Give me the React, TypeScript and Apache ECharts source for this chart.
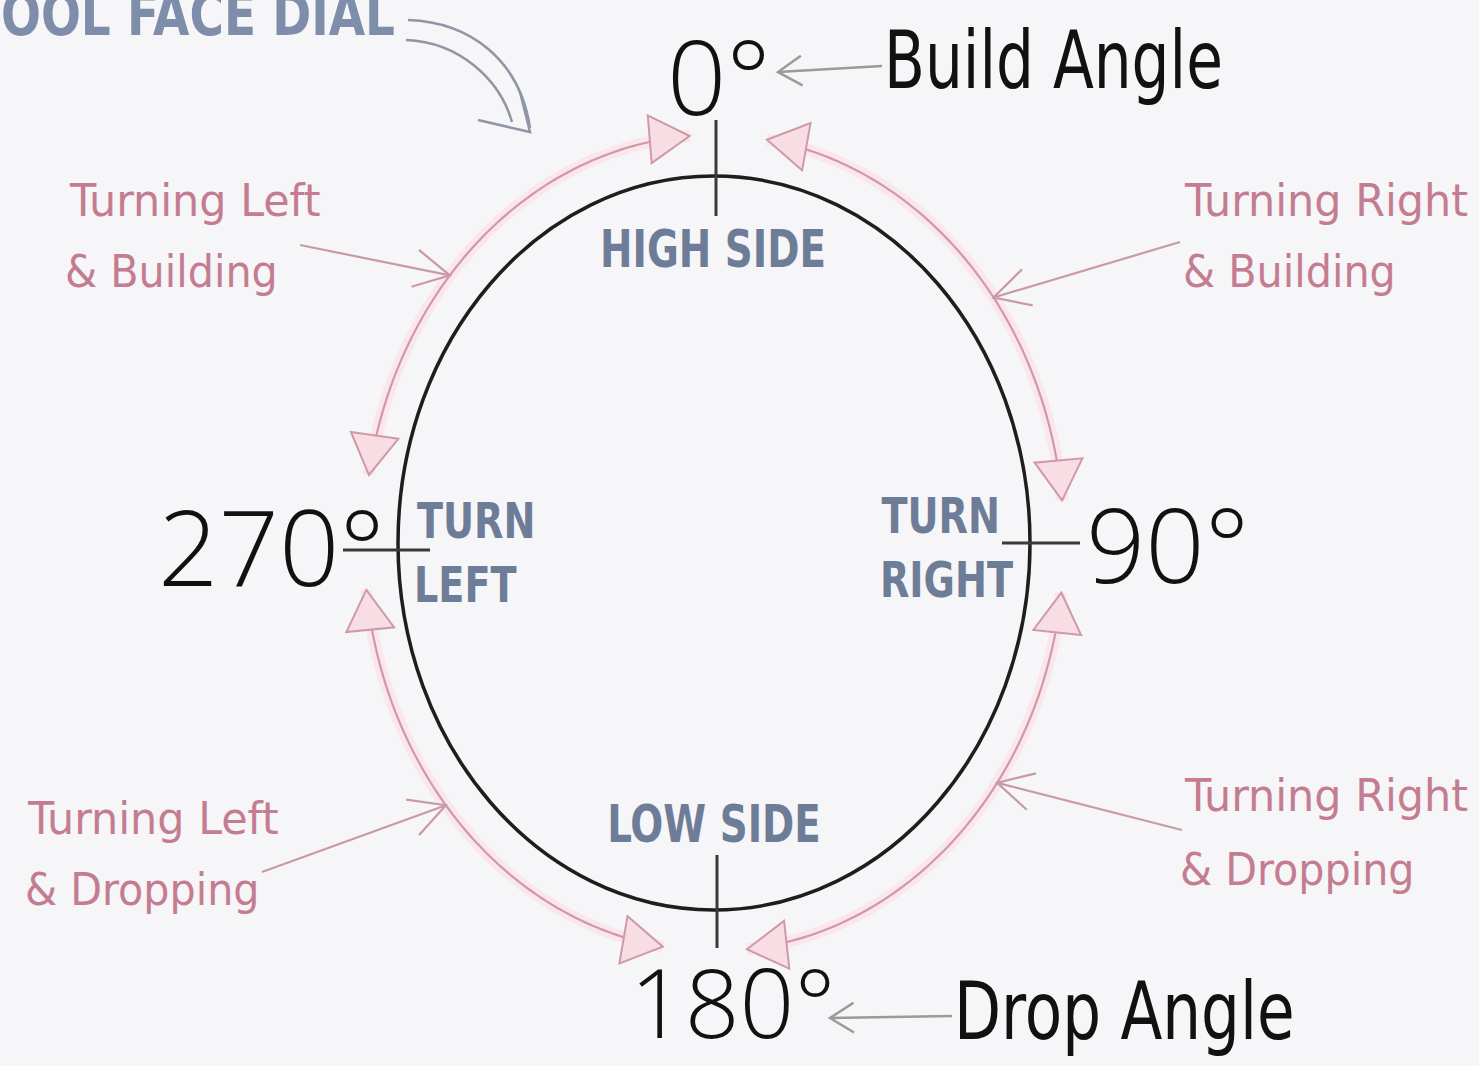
import React, { useEffect, useRef } from 'react';
import * as echarts from 'echarts';

// ---- content ----
const title = 'TOOL FACE DIAL';
const dialAngles = [0, 90, 180, 270];
const dialLabels = ['0°', '90°', '180°', '270°'];
const sideLabels = ['HIGH SIDE', 'TURN\nRIGHT', 'LOW SIDE', 'TURN\nLEFT'];
const angleNotes = ['Build Angle', 'Drop Angle'];
const quadrantLabels = [
  'Turning Right\n& Building',
  'Turning Right\n& Dropping',
  'Turning Left\n& Dropping',
  'Turning Left\n& Building',
];
const arcStart = [8.7, 97, 188.4, 279.6];
const arcEnd = [84, 174.6, 263.4, 356];
const pointerAngles = [53, 126, 230, 311];

// ---- layout ----
const W = 1479, H = 1066;
const CX = 714, CY = 543;
const RX = 316, RY = 367;
const PRX = 350, PRY = 408;

const HAND = "'Open Sans', 'Liberation Sans', sans-serif";
const NARROW = "'Liberation Sans Narrow', 'DejaVu Sans Condensed', 'Open Sans', sans-serif";
const BLUE = '#6e7d97';
const PINK_TXT = '#c47d90';
const PINK_LINE = '#cf9aa8';
const PINK_FILL = '#f9dde4';

const rad = (d: number) => (d * Math.PI) / 180;
const ept = (th: number, rx: number, ry: number) => [CX + rx * Math.sin(rad(th)), CY - ry * Math.cos(rad(th))];
const tan = (th: number, rx: number, ry: number) => {
  const dx = rx * Math.cos(rad(th)), dy = ry * Math.sin(rad(th));
  const l = Math.hypot(dx, dy);
  return [dx / l, dy / l];
};

function tri(p: number[], u: number[], L: number, w: number) {
  const b = [p[0] - L * u[0], p[1] - L * u[1]];
  const n = [-u[1], u[0]];
  return {
    type: 'polygon',
    shape: { points: [p, [b[0] + w * n[0], b[1] + w * n[1]], [b[0] - w * n[0], b[1] - w * n[1]]] },
    style: { fill: PINK_FILL, stroke: PINK_LINE, lineWidth: 2 },
    z: 5,
  };
}

function vHead(s: number[], t: number[], L: number, ang: number, color: string, lw: number) {
  const dx = t[0] - s[0], dy = t[1] - s[1];
  const l = Math.hypot(dx, dy);
  const ux = dx / l, uy = dy / l;
  const arms = [ang, -ang].map((a) => {
    const c = Math.cos(rad(a)), sn = Math.sin(rad(a));
    const rx = ux * c - uy * sn, ry = ux * sn + uy * c;
    return [t[0] - L * rx, t[1] - L * ry];
  });
  return [
    { type: 'line', shape: { x1: s[0], y1: s[1], x2: t[0], y2: t[1] }, style: { stroke: color, lineWidth: lw }, z: 4 },
    { type: 'polyline', shape: { points: [arms[0], t, arms[1]] }, style: { stroke: color, lineWidth: lw, fill: null }, z: 4 },
  ];
}

function txt(text: string, x: number, y: number, size: number, color: string, family: string, align = 'left', weight: any = 'normal', sx = 1) {
  return {
    type: 'text',
    z: 10,
    x, y, scaleX: sx, scaleY: 1,
    style: {
      text, x: 0, y: 0, fill: color,
      fontSize: size, fontFamily: family, fontWeight: weight, lineHeight: Math.round(size * 1.05),
      align, textAlign: align, verticalAlign: 'middle', textVerticalAlign: 'middle',
    },
  };
}

function buildGraphic() {
  const els: any[] = [];

  // pink quadrant arcs
  arcStart.forEach((a0, i) => {
    const a1 = arcEnd[i];
    const pts: number[][] = [];
    for (let a = a0; a < a1; a += 1) pts.push(ept(a, PRX, PRY));
    pts.push(ept(a1, PRX, PRY));
    els.push({ type: 'polyline', shape: { points: pts }, style: { stroke: '#fbe6eb', lineWidth: 12, fill: null }, z: 2 });
    els.push({ type: 'polyline', shape: { points: pts }, style: { stroke: PINK_LINE, lineWidth: 2.2, fill: null }, z: 3 });
    const t1 = tan(a1, PRX, PRY);
    els.push(tri(ept(a1, PRX, PRY), t1, 40, 24));
    const t0 = tan(a0, PRX, PRY);
    els.push(tri(ept(a0, PRX, PRY), [-t0[0], -t0[1]], 40, 24));
  });

  // dial ellipse
  els.push({ type: 'ellipse', shape: { cx: CX, cy: CY, rx: RX, ry: RY }, style: { stroke: '#1e1e1e', lineWidth: 3.5, fill: null }, z: 6 });

  // cross ticks at dial angles
  const tickSpecs: Record<number, any> = {
    0: { x1: 716, y1: 120, x2: 716, y2: 216 },
    90: { x1: 1002, y1: 543, x2: 1080, y2: 543 },
    180: { x1: 717, y1: 855, x2: 717, y2: 948 },
    270: { x1: 343, y1: 550, x2: 430, y2: 550 },
  };
  dialAngles.forEach((a) => {
    els.push({ type: 'line', shape: tickSpecs[a], style: { stroke: '#3a3a3a', lineWidth: 3 }, z: 7 });
  });

  // dial labels
  const dialPos: Record<number, any> = {
    0: [667, 74, 104],
    90: [1086, 542, 104],
    180: [630, 1000, 96],
    270: [158, 545, 106],
  };
  dialAngles.forEach((a, i) => {
    const p = dialPos[a];
    els.push(txt(dialLabels[i], p[0], p[1], p[2], '#111', HAND, 'left', 300));
  });

  // side labels
  const SX = 0.83;
  els.push(txt(sideLabels[0], 713, 249, 52, BLUE, NARROW, 'center', 'bold', SX));
  els.push(txt(sideLabels[2], 714, 824, 52, BLUE, NARROW, 'center', 'bold', SX));
  const tr = sideLabels[1].split('\n');
  els.push(txt(tr[0], 1000, 516, 50, BLUE, NARROW, 'right', 'bold', 0.85));
  els.push(txt(tr[1], 1013, 580, 50, BLUE, NARROW, 'right', 'bold', 0.85));
  const tl = sideLabels[3].split('\n');
  els.push(txt(tl[0], 417, 521, 50, BLUE, NARROW, 'left', 'bold', 0.85));
  els.push(txt(tl[1], 414, 585, 50, BLUE, NARROW, 'left', 'bold', 0.85));

  // build / drop notes with arrows
  els.push(txt(angleNotes[0], 884, 60, 80, '#111', NARROW, 'left', 'normal', 0.83));
  els.push(...vHead([882, 66], [778, 72], 28, 32, '#9a9a9a', 2.5));
  els.push(txt(angleNotes[1], 954, 1012, 80, '#111', NARROW, 'left', 'normal', 0.85));
  els.push(...vHead([952, 1016], [830, 1018], 28, 32, '#9a9a9a', 2.5));

  // quadrant labels + pointers
  const qPos = [
    { x: 1185, y: 200, x2: 1183, y2: 272, start: [1180, 242] },
    { x: 1185, y: 795, x2: 1180, y2: 870, start: [1182, 830] },
    { x: 28, y: 818, x2: 25, y2: 890, start: [262, 872] },
    { x: 70, y: 200, x2: 65, y2: 272, start: [300, 245] },
  ];
  quadrantLabels.forEach((lab, i) => {
    const [l1, l2] = lab.split('\n');
    const q = qPos[i];
    els.push(txt(l1, q.x, q.y, 45, PINK_TXT, NARROW, 'left', 'normal', 1.06));
    els.push(txt(l2, q.x2, q.y2, 45, PINK_TXT, NARROW, 'left', 'normal', 1.02));
    els.push(...vHead(q.start, ept(pointerAngles[i], PRX, PRY), 40, 28, '#c99aa6', 2.2));
  });

  // title (cut at top-left, as in the source) and its curved double arrow
  els.push({
    type: 'text', z: 10,
    x: 395, y: 44, scaleX: 0.9, scaleY: 1,
    style: {
      text: title, x: 0, y: 0, fill: '#7d8daa', fontSize: 58, fontFamily: NARROW, fontWeight: 'bold', lineHeight: 58,
      align: 'right', textAlign: 'right', verticalAlign: 'bottom', textVerticalAlign: 'bottom',
    },
  });
  els.push({ type: 'bezierCurve', shape: { x1: 408, y1: 20, cpx1: 470, cpy1: 22, cpx2: 520, cpy2: 60, x2: 530, y2: 128 }, style: { stroke: '#8f97a6', lineWidth: 2.5, fill: null }, z: 4 });
  els.push({ type: 'bezierCurve', shape: { x1: 406, y1: 40, cpx1: 460, cpy1: 42, cpx2: 500, cpy2: 80, x2: 512, y2: 122 }, style: { stroke: '#8f97a6', lineWidth: 2.5, fill: null }, z: 4 });
  els.push({ type: 'polyline', shape: { points: [[520, 92], [530, 132], [478, 120]] }, style: { stroke: '#8f97a6', lineWidth: 2.5, fill: null }, z: 4 });

  return els;
}

export default function App() {
  const ref = useRef<HTMLDivElement>(null);
  useEffect(() => {
    document.body.style.margin = '0';
    const chart = echarts.init(ref.current!, null, { renderer: 'svg' });
    chart.setOption({
      animation: false,
      backgroundColor: '#f6f5f7',
      graphic: { elements: buildGraphic() },
    });
    return () => chart.dispose();
  }, []);
  return <div ref={ref} style={{ width: W, height: H, position: 'absolute', left: 0, top: 0 }} />;
}
